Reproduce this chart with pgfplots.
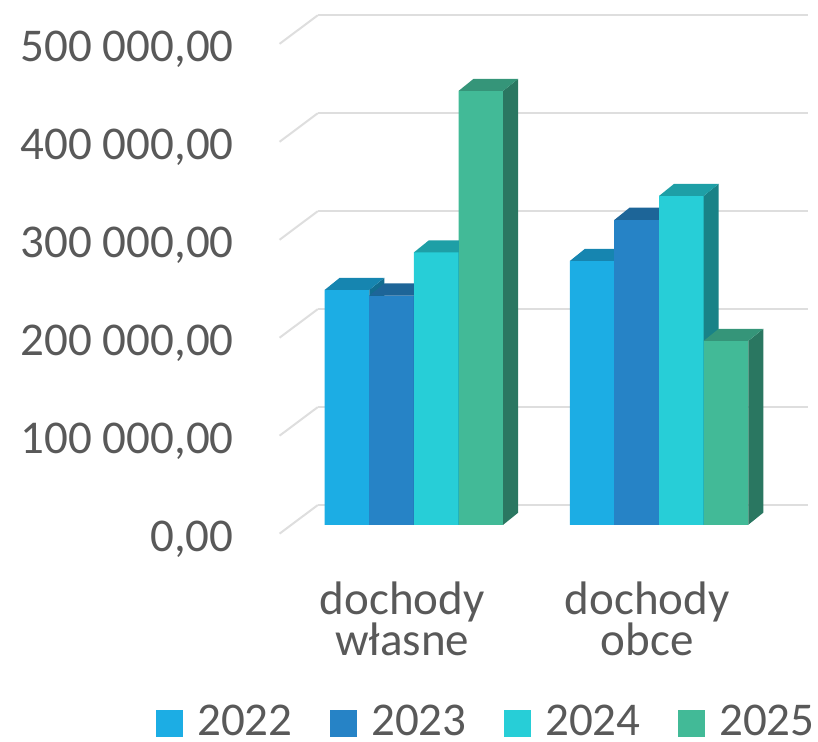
\documentclass[border=0pt]{standalone}
\usepackage{pgfplots}
\pgfplotsset{compat=1.18}
\usepackage{pgfplotstable}
\usepackage{fontspec}
\setmainfont{Carlito}
\definecolor{c1}{HTML}{1CADE4}
\definecolor{c2}{HTML}{2683C6}
\definecolor{c3}{HTML}{27CED7}
\definecolor{c4}{HTML}{42BA97}
\colorlet{c1t}{c1!77!black}\colorlet{c1s}{c1!63!black}
\colorlet{c2t}{c2!77!black}\colorlet{c2s}{c2!63!black}
\colorlet{c3t}{c3!77!black}\colorlet{c3s}{c3!63!black}
\colorlet{c4t}{c4!80!black}\colorlet{c4s}{c4!64!black}
\definecolor{txt}{HTML}{595959}
\definecolor{gridc}{HTML}{DEDEDE}

\pgfplotstableread{
x a b c d
0 239800 234000 278100 442900
1 269300 311300 335700 187700
}\data

\newcommand\declcube[5]{%
  \pgfdeclareplotmark{#1}{%
    \begingroup
      \pgfkeys{/pgf/fpu=true,/pgf/fpu/output format=fixed}%
      \pgfmathparse{\hv*0.4898}%
      \global\let\cubeH\pgfmathresult
    \endgroup
    \pgfmathsetmacro\cubeL{#2-11.15}%
    \pgfmathsetmacro\cubeR{#2+11.15}%
    \pgfmathsetmacro\cubeRR{\cubeR+7.5}%
    \pgfmathsetmacro\cubeLL{\cubeL+7.5}%
    \pgfmathsetmacro\cubeB{6.05-\cubeH}%
    \pgfscope
    \pgfsetfillcolor{#5}%
    \pgfpathrectanglecorners{\pgfqpoint{\cubeL pt}{-\cubeH pt}}{\pgfqpoint{\cubeR pt}{0pt}}%
    \pgfusepath{fill}%
    \pgfsetfillcolor{#4}%
    \pgfpathmoveto{\pgfqpoint{\cubeR pt}{0pt}}%
    \pgfpathlineto{\pgfqpoint{\cubeRR pt}{6.05pt}}%
    \pgfpathlineto{\pgfqpoint{\cubeRR pt}{\cubeB pt}}%
    \pgfpathlineto{\pgfqpoint{\cubeR pt}{-\cubeH pt}}%
    \pgfpathclose
    \pgfusepath{fill}%
    \pgfsetfillcolor{#3}%
    \pgfpathmoveto{\pgfqpoint{\cubeL pt}{0pt}}%
    \pgfpathlineto{\pgfqpoint{\cubeR pt}{0pt}}%
    \pgfpathlineto{\pgfqpoint{\cubeRR pt}{6.05pt}}%
    \pgfpathlineto{\pgfqpoint{\cubeLL pt}{6.05pt}}%
    \pgfpathclose
    \pgfusepath{fill}%
    \endpgfscope
  }}
\declcube{cubeA}{-33.45}{c1t}{c1s}{c1}
\declcube{cubeB}{-11.15}{c2t}{c2s}{c2}
\declcube{cubeC}{11.15}{c3t}{c3s}{c3}
\declcube{cubeD}{33.45}{c4t}{c4s}{c4}

\pgfplotsset{
  mybar/.style={ybar, bar width=22.3pt, draw=none,
    legend image code/.code={%
      \pgfpathrectanglecorners{\pgfpoint{-20.35pt}{-7.4pt}}{\pgfpoint{20.65pt}{6.1pt}}\pgfusepath{discard}%
      \fill[##1] (0pt,-7.4pt) rectangle (13.5pt,6.1pt);}},
  mycube/.style={forget plot, only marks, mark=#1, visualization depends on={y \as \hv}},
}
\newcommand\legtxt[1]{\makebox[46pt][l]{#1}}

\begin{document}
\begin{tikzpicture}
\begin{axis}[
  at={(0,0)}, anchor=south west,
  scale only axis, width=245.1pt, height=244.9pt,
  xmin=-0.5, xmax=1.5, ymin=0, ymax=500,
  clip=false,
  axis line style={draw=none},
  tick style={draw=none},
  major tick length=0pt,
  xtick={0,1},
  xticklabels={{dochody\\[-7.4pt]własne},{dochody\\[-7.4pt]obce}},
  ytick={0,100,200,300,400,500},
  yticklabels={{0,00},{100 000,00},{200 000,00},{300 000,00},{400 000,00},{500 000,00}},
  tick label style={font=\fontsize{23.5}{28.2}\selectfont, text=txt, inner sep=0pt},
  yticklabel style={anchor=base east, xshift=-28.7pt, yshift=-13.3pt},
  xticklabel style={anchor=north, align=center, xshift=-5.92pt, yshift=-28.1pt},
  legend columns=4,
  legend style={draw=none, fill=none, inner sep=0pt, outer sep=0pt,
    at={(0,0)}, anchor=west, xshift=-88.05pt, yshift=-98.55pt,
    font=\fontsize{23.5}{28}\selectfont, text=txt,
    nodes={inner sep=0pt}, column sep=0pt,
    /tikz/every odd column/.style={column sep=0pt},
    /tikz/every even column/.style={column sep=0pt}},
  legend cell align=left,
]
\pgfplotsinvokeforeach{0,100,200,300,400,500}{
  \draw[gridc, line width=1pt] ([shift={(13.2pt,9.87pt)}]axis cs:-0.5,#1) -- ([shift={(13.2pt,9.87pt)}]axis cs:1.5,#1);
  \draw[gridc, line width=1pt] ([shift={(-5.92pt,-4.43pt)}]axis cs:-0.5,#1) -- ([shift={(13.2pt,9.87pt)}]axis cs:-0.5,#1);
}
\addplot[mybar, bar shift=-33.45pt, fill=c1] table[x=x, y expr=\thisrow{a}/1000] {\data};
\addlegendentry{\legtxt{2022}}
\addplot[mycube=cubeA] table[x=x, y expr=\thisrow{a}/1000] {\data};
\addplot[mybar, bar shift=-11.15pt, fill=c2] table[x=x, y expr=\thisrow{b}/1000] {\data};
\addlegendentry{\legtxt{2023}}
\addplot[mycube=cubeB] table[x=x, y expr=\thisrow{b}/1000] {\data};
\addplot[mybar, bar shift=11.15pt, fill=c3] table[x=x, y expr=\thisrow{c}/1000] {\data};
\addlegendentry{\legtxt{2024}}
\addplot[mycube=cubeC] table[x=x, y expr=\thisrow{c}/1000] {\data};
\addplot[mybar, bar shift=33.45pt, fill=c4] table[x=x, y expr=\thisrow{d}/1000] {\data};
\addlegendentry{\legtxt{2025}}
\addplot[mycube=cubeD] table[x=x, y expr=\thisrow{d}/1000] {\data};
\end{axis}
\pgfresetboundingbox
\path[use as bounding box] (-145.7pt,-108.6pt) rectangle (263.3pt,262.4pt);
\end{tikzpicture}
\end{document}
